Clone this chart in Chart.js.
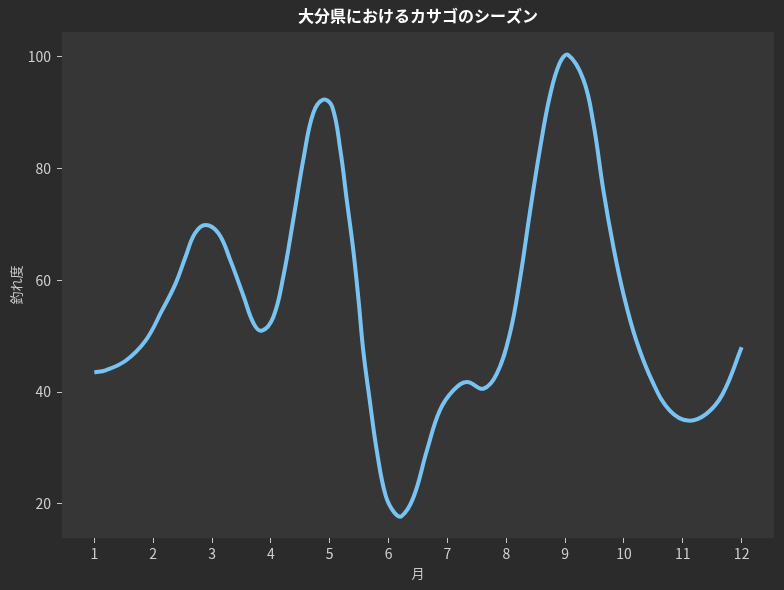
<!DOCTYPE html>
<html lang="ja">
<head>
<meta charset="utf-8">
<title>大分県におけるカサゴのシーズン</title>
<script src="https://cdn.jsdelivr.net/npm/chart.js@4.4.1/dist/chart.umd.min.js"></script>
<style>
  html, body { margin:0; padding:0; background:#2b2b2b; }
  #wrap { width:784px; height:590px; position:relative; }
</style>
</head>
<body>
<div id="wrap"><canvas id="chart-season"></canvas></div>
<script>
/* ── data ── */
const monthPos = [1.00, 1.19, 1.53, 1.87, 2.15, 2.38, 2.55, 2.71, 2.89, 3.11,
                  3.31, 3.54, 3.71, 3.85, 4.04, 4.21, 4.38, 4.56, 4.72, 4.89,
                  5.04, 5.18, 5.29, 5.40, 5.49, 5.57, 5.68, 5.80, 5.95, 6.10,
                  6.22, 6.42, 6.65, 6.87, 7.10, 7.33, 7.61, 7.84, 8.06, 8.23,
                  8.40, 8.57, 8.74, 8.91, 9.05, 9.31, 9.48, 9.65, 9.82, 9.99,
                  10.21, 10.50, 10.78, 11.09, 11.40, 11.68, 12.00];
const catchIndex = [43.5, 43.9, 45.6, 49.2, 54.6, 59.4, 64.2, 68.4, 69.9, 68.4,
                    63.6, 57.0, 52.2, 51.0, 53.4, 60.6, 70.8, 82.1, 89.9, 92.3,
                    91.1, 83.3, 74.3, 65.4, 56.4, 47.4, 38.5, 29.5, 21.5, 18.4,
                    17.8, 21.1, 29.5, 36.7, 40.3, 41.8, 40.6, 43.3, 50.4, 60.0,
                    72.0, 83.3, 92.9, 98.9, 100.3, 95.9, 88.1, 76.1, 66.0, 57.6,
                    49.2, 41.5, 36.7, 34.9, 36.1, 39.7, 48.0];
const monthTicks = [1, 2, 3, 4, 5, 6, 7, 8, 9, 10, 11, 12];
const valueTicks = [20, 40, 60, 80, 100];

Chart.defaults.font.family = '"Noto Sans CJK JP", "Noto Sans", sans-serif';

// ── backgrounds: figure + plot area ──
const bgPlugin = {
  id: 'bg',
  beforeDraw(chart) {
    const { ctx, chartArea: a } = chart;
    ctx.save();
    ctx.fillStyle = '#2b2b2b';
    ctx.fillRect(0, 0, chart.width, chart.height);
    ctx.fillStyle = '#363636';
    ctx.fillRect(a.left, a.top, a.right - a.left, a.bottom - a.top);
    ctx.restore();
  }
};

new Chart(document.getElementById('chart-season'), {
  type: 'line',
  data: {
    datasets: [{
      data: monthPos.map((m, i) => ({ x: m, y: catchIndex[i] })),
      borderColor: '#79c3f2',
      borderWidth: 4,
      pointRadius: 0,
      tension: 0.4,
      borderCapStyle: 'butt',
      fill: false
    }]
  },
  options: {
    responsive: true,
    maintainAspectRatio: false,
    animation: false,
    layout: { padding: { left: 0, right: 10, top: 0, bottom: 0 } },
    plugins: {
      legend: { display: false },
      tooltip: { enabled: false },
      title: {
        display: true,
        text: '大分県におけるカサゴのシーズン',
        color: '#ffffff',
        fullSize: false,
        font: { size: 16, weight: 'bold' },
        padding: { top: 6, bottom: 6.8 }
      }
    },
    scales: {
      x: {
        type: 'linear',
        min: 0.45, max: 12.55,
        afterFit: s => { s.height = 52; },
        afterBuildTicks: s => { s.ticks = monthTicks.map(v => ({ value: v })); },
        ticks: { color: '#d0d0d0', font: { size: 14 }, padding: 2, maxRotation: 0 },
        grid: { drawOnChartArea: false, drawTicks: true, tickLength: 5, color: '#c8c8c8' },
        border: { display: false },
        title: { display: true, text: '月', color: '#c8c8c8', font: { size: 13 }, padding: { bottom: 9.6 } }
      },
      y: {
        min: 13.9, max: 104.4,
        afterFit: s => { s.width = 62; },
        afterBuildTicks: s => { s.ticks = valueTicks.map(v => ({ value: v })); },
        ticks: { color: '#d0d0d0', font: { size: 14 }, padding: 6 },
        grid: { drawOnChartArea: false, drawTicks: true, tickLength: 5, color: '#c8c8c8' },
        border: { display: false },
        title: { display: true, text: '釣れ度', color: '#c8c8c8', font: { size: 13 }, padding: { top: 8 } }
      }
    }
  },
  plugins: [bgPlugin]
});
</script>
</body>
</html>
